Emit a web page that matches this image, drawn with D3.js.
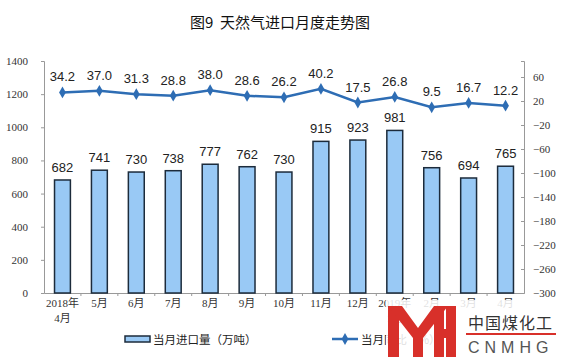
<!DOCTYPE html>
<html><head><meta charset="utf-8">
<script src="https://cdn.jsdelivr.net/npm/d3@7"></script>
<style>
html,body{margin:0;padding:0;background:#fff;}
svg{display:block;}
</style>
</head><body>
<svg id="c" width="561" height="357"></svg>
<script>
const categories = ["2018年|4月","5月","6月","7月","8月","9月","10月","11月","12月","2019年|1月","2月","3月","4月"];
const importVolume = [682,741,730,738,777,762,730,915,923,981,756,694,765];
const yoyGrowth = [34.2,37.0,31.3,28.8,38.0,28.6,26.2,40.2,17.5,26.8,9.5,16.7,12.2];
const leftTicks = [0,200,400,600,800,1000,1200,1400];
const rightTicks = [60,20,-20,-60,-100,-140,-180,-220,-260,-300];
const title = "图9  天然气进口月度走势图";
const legendBar = "当月进口量（万吨）";
const legendLine = "当月同比（%）";

const svg = d3.select("#c");
const L = 44, R = 524, T = 61, B = 293;
const x = d3.scaleBand().domain(categories).range([L, R]).paddingInner(0.57).paddingOuter(0.285);
const yL = d3.scaleLinear().domain([0, 1400]).range([B, T]);
const yR = d3.scaleLinear().domain([-300, 86.67]).range([B, T]);
const cx = c => x(c) + x.bandwidth() / 2;

const barFill = "#99C9F5", barStroke = "#1C2B3B", lineColor = "#2E6DB4";
const serif = "'Liberation Serif','Noto Sans CJK SC',serif";
const sans = "'Liberation Sans',Arial,sans-serif";
const cjk = "'Noto Sans CJK SC',sans-serif";

// title
svg.append("text").attr("x", 280).attr("y", 28).attr("text-anchor", "middle")
  .style("white-space", "pre")
  .style("font-family", cjk).style("font-size", "15px").attr("fill", "#111").text(title);

// left axis
const gL = svg.append("g").attr("transform", `translate(${L},0)`)
  .call(d3.axisLeft(yL).tickValues(leftTicks).tickSize(3).tickPadding(13).tickFormat(d3.format("d")));
gL.select(".domain").attr("stroke", "#999");
gL.selectAll(".tick line").attr("stroke", "#999");
gL.selectAll("text").style("font-family", serif).style("font-size", "11px").attr("fill", "#333");

// right axis
const gR = svg.append("g").attr("transform", `translate(${R},0)`)
  .call(d3.axisRight(yR).tickValues(rightTicks).tickSize(-3).tickPadding(9).tickFormat(d3.format("d")));
gR.select(".domain").attr("stroke", "#999");
gR.selectAll(".tick line").attr("stroke", "#999");
gR.selectAll("text").style("font-family", serif).style("font-size", "11px").attr("fill", "#333");

// bottom axis
const gB = svg.append("g").attr("transform", `translate(0,${B})`)
  .call(d3.axisBottom(x).tickSize(0).tickPadding(0).tickFormat(""));
gB.select(".domain").attr("stroke", "#999");
const step = x.step();
svg.append("g").selectAll("line").data(categories.slice(1)).join("line")
  .attr("x1", d => x(d) - x.paddingInner() * step / 2).attr("x2", d => x(d) - x.paddingInner() * step / 2)
  .attr("y1", B).attr("y2", B + 3).attr("stroke", "#999");
const xl = svg.append("g");
categories.forEach(c => {
  const parts = c.split("|");
  parts.forEach((p, i) => {
    xl.append("text").attr("x", cx(c)).attr("y", 307 + i * 15).attr("text-anchor", "middle")
      .style("font-family", serif).style("font-size", "11px").attr("fill", "#333").text(p);
  });
});

// bars
svg.append("g").selectAll("rect").data(importVolume).join("rect")
  .attr("x", (d, i) => x(categories[i])).attr("width", x.bandwidth())
  .attr("y", d => yL(d)).attr("height", d => B - yL(d))
  .attr("fill", barFill).attr("stroke", barStroke).attr("stroke-width", 1.5);
svg.append("g").selectAll("text").data(importVolume).join("text")
  .attr("x", (d, i) => cx(categories[i])).attr("y", d => yL(d) - 8).attr("text-anchor", "middle")
  .style("font-family", sans).style("font-size", "13px").attr("fill", "#222").text(d => d);

// line
const line = d3.line().x((d, i) => cx(categories[i])).y(d => yR(d));
svg.append("path").datum(yoyGrowth).attr("d", line).attr("fill", "none")
  .attr("stroke", lineColor).attr("stroke-width", 2.5);
const diamond = d3.symbol().type(d3.symbolDiamond).size(40);
svg.append("g").selectAll("path").data(yoyGrowth).join("path")
  .attr("d", diamond).attr("transform", (d, i) => `translate(${cx(categories[i])},${yR(d)})`)
  .attr("fill", lineColor);
svg.append("g").selectAll("text").data(yoyGrowth).join("text")
  .attr("x", (d, i) => cx(categories[i])).attr("y", d => yR(d) - 11).attr("text-anchor", "middle")
  .style("font-family", sans).style("font-size", "13px").attr("fill", "#222").text(d => d.toFixed(1));

// legend
svg.append("rect").attr("x", 125).attr("y", 336).attr("width", 25).attr("height", 6)
  .attr("fill", barFill).attr("stroke", barStroke).attr("stroke-width", 1.5);
svg.append("text").attr("x", 153).attr("y", 344).style("font-family", cjk).style("font-size", "11.5px")
  .attr("fill", "#222").text(legendBar);
svg.append("line").attr("x1", 332).attr("x2", 358).attr("y1", 339).attr("y2", 339)
  .attr("stroke", lineColor).attr("stroke-width", 2.5);
svg.append("path").attr("d", diamond).attr("transform", "translate(345,339)").attr("fill", lineColor);
svg.append("text").attr("x", 361).attr("y", 344).style("font-family", cjk).style("font-size", "11.5px")
  .attr("fill", "#222").text(legendLine);

// watermark
const wm = svg.append("g");
wm.append("rect").attr("x", 386).attr("y", 300).attr("width", 175).attr("height", 57).attr("fill", "#fff").attr("opacity", 0.85);
const red = "#D8302A";
wm.append("rect").attr("x", 388).attr("y", 306).attr("width", 11).attr("height", 51).attr("fill", red);
wm.append("path").attr("d", "M388,306 L402,306 L418,328 L434,306 L448,306 L423,338 L423,357 L413,357 L413,338 Z").attr("fill", red);
wm.append("rect").attr("x", 434).attr("y", 306).attr("width", 10).attr("height", 51).attr("fill", red);
wm.append("rect").attr("x", 434).attr("y", 329).attr("width", 22).attr("height", 9).attr("fill", red);
wm.append("rect").attr("x", 446).attr("y", 306).attr("width", 10).attr("height", 51).attr("fill", red);
wm.append("text").attr("x", 468).attr("y", 329).style("font-family", cjk).style("font-size", "16px")
  .attr("fill", "#333").attr("letter-spacing", "1px").text("中国煤化工");
wm.append("rect").attr("x", 466).attr("y", 333).attr("width", 90).attr("height", 2).attr("fill", red);
wm.append("text").attr("x", 468).attr("y", 353).style("font-family", sans).style("font-size", "16px")
  .attr("fill", "#555").attr("letter-spacing", "5px").text("CNMHG");
</script>
</body></html>
